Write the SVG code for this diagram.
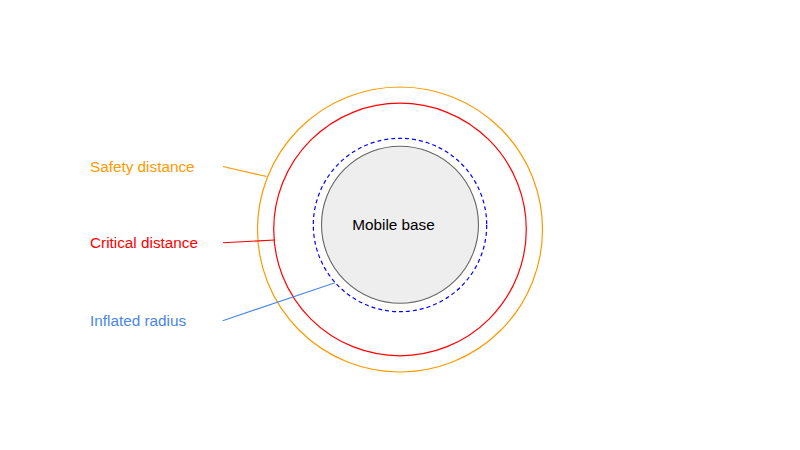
<svg xmlns="http://www.w3.org/2000/svg" width="800" height="450" viewBox="0 0 800 450">
<style>
text{font-family:"Liberation Sans",Arial,sans-serif;font-size:15.3px}
.ring{fill:none;stroke-width:1.2}
.lead{fill:none;stroke-width:1.1}
</style>
<rect width="800" height="450" fill="#ffffff"/>
<g id="safety-ring"><circle class="ring" cx="400" cy="229.5" r="142.5" stroke="#ff9900"/></g>
<g id="critical-ring"><circle class="ring" cx="400" cy="229.5" r="126.3" stroke="#ff0000"/></g>
<g id="inflated-ring"><circle class="ring" cx="400" cy="225" r="86.7" stroke="#0000ff" stroke-dasharray="4,3"/></g>
<g id="mobile-base"><circle cx="400" cy="224.7" r="78.5" fill="#eeeeee" stroke="#666666" stroke-width="1.1"/>
<text x="352.3" y="230.3" fill="#000000">Mobile base</text></g>
<g id="connectors">
<line class="lead" x1="223" y1="166.5" x2="266.5" y2="176.5" stroke="#ff9900"/>
<line class="lead" x1="223" y1="242.7" x2="275" y2="240" stroke="#ff0000"/>
<line class="lead" x1="222.7" y1="320.7" x2="335" y2="282.7" stroke="#4a86e8"/>
</g>
<g id="label-safety"><text x="90" y="172.3" fill="#ff9900">Safety distance</text></g>
<g id="label-critical"><text x="90" y="248.3" fill="#ff0000">Critical distance</text></g>
<g id="label-inflated"><text x="90" y="326.3" fill="#4a86e8">Inflated radius</text></g>
</svg>
